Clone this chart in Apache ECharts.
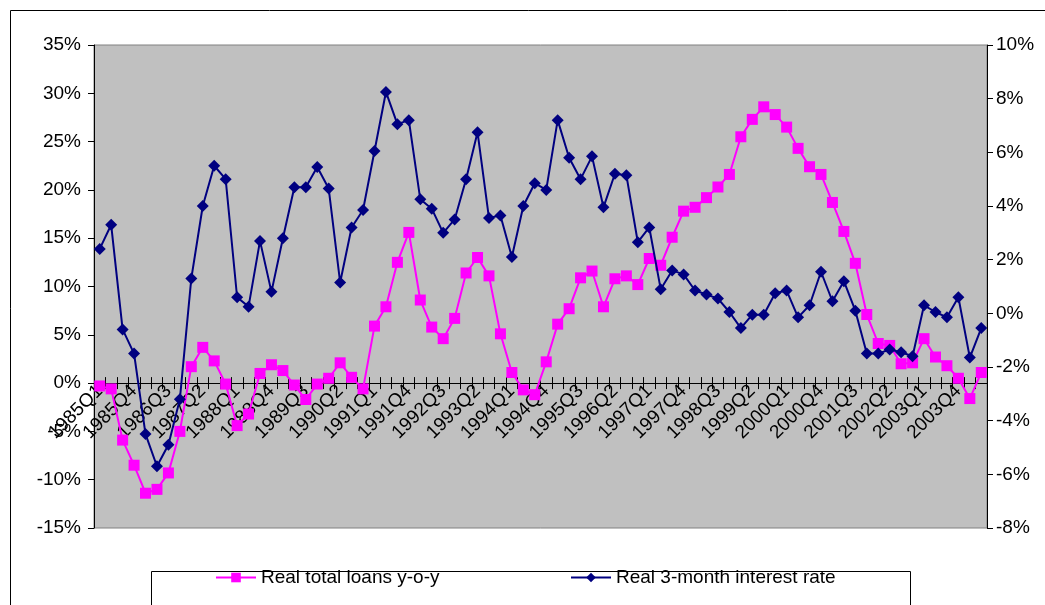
<!DOCTYPE html>
<html>
<head>
<meta charset="utf-8">
<script src="https://cdn.jsdelivr.net/npm/echarts@6/dist/echarts.min.js"></script>
<style>
  html, body { margin: 0; padding: 0; background: #fff; }
  #chart { width: 1045px; height: 605px; }
</style>
</head>
<body>
<div id="chart"></div>
<script>
// Quarters 1985Q1 .. 2004Q2
const quarters = [];
for (let y = 1985; y <= 2004; y++) {
  for (let q = 1; q <= 4; q++) {
    if (y === 2004 && q > 2) break;
    quarters.push(y + 'Q' + q);
  }
}

// Real total loans, year-on-year growth (%), left axis
const realLoansYoY = [
  -0.3, -0.6, -5.9, -8.5, -11.4, -11.0, -9.3, -5.0, 1.7, 3.7,
  2.3, -0.1, -4.4, -3.2, 1.0, 1.9, 1.3, -0.2, -1.7, -0.1,
  0.5, 2.1, 0.6, -0.6, 5.9, 7.9, 12.5, 15.6, 8.6, 5.8,
  4.6, 6.7, 11.4, 13.0, 11.1, 5.1, 1.1, -0.7, -1.2, 2.2,
  6.1, 7.7, 10.9, 11.6, 7.9, 10.8, 11.1, 10.2, 12.9, 12.2,
  15.1, 17.8, 18.2, 19.2, 20.3, 21.6, 25.5, 27.3, 28.6, 27.8,
  26.5, 24.3, 22.4, 21.6, 18.7, 15.7, 12.4, 7.1, 4.1, 3.9,
  2.0, 2.1, 4.6, 2.7, 1.8, 0.5, -1.6, 1.1
];

// Real 3-month interest rate (%), right axis
const real3mRate = [
  2.4, 3.3, -0.6, -1.5, -4.5, -5.7, -4.9, -3.2, 1.3, 4.0,
  5.5, 5.0, 0.6, 0.25, 2.7, 0.8, 2.8, 4.7, 4.7, 5.45,
  4.65, 1.15, 3.2, 3.85, 6.05, 8.25, 7.05, 7.2, 4.25, 3.9,
  3.0, 3.5, 5.0, 6.75, 3.55, 3.65, 2.1, 4.0, 4.85, 4.6,
  7.2, 5.8, 5.0, 5.85, 3.95, 5.2, 5.15, 2.65, 3.2, 0.9,
  1.6, 1.45, 0.85, 0.7, 0.55, 0.05, -0.55, -0.05, -0.05, 0.75,
  0.85, -0.15, 0.3, 1.55, 0.45, 1.2, 0.1, -1.5, -1.5, -1.35,
  -1.45, -1.6, 0.3, 0.05, -0.15, 0.6, -1.65, -0.55
];

const seriesNames = ['Real total loans y-o-y', 'Real 3-month interest rate'];

// Axis ranges
const loansAxis = { min: -15, max: 35, interval: 5 };
const rateAxis = { min: -8, max: 10, interval: 2 };

const FONT = 'Liberation Sans, Arial, sans-serif';
const FS = 19;

const W = 1045, H = 605;
const gridBox = { left: 94, right: 58, top: 45, bottom: 77 };
// The category axis sits on the 0% line of the left axis; a label-only grid
// ends exactly there so the quarter labels hang from that line.
const plotH = H - gridBox.top - gridBox.bottom;
const zeroFromBottom = plotH * (0 - loansAxis.min) / (loansAxis.max - loansAxis.min);
const labelGridBox = { left: gridBox.left, right: gridBox.right, top: gridBox.top,
                       bottom: gridBox.bottom + zeroFromBottom };

const chart = echarts.init(document.getElementById('chart'), null, { renderer: 'canvas' });

const catAxis = (extra) => Object.assign({
  type: 'category',
  data: quarters,
  boundaryGap: true,
  splitLine: { show: false }
}, extra);

chart.setOption({
  animation: false,
  backgroundColor: '#fff',
  textStyle: { fontFamily: FONT },
  graphic: [
    { type: 'rect', z: -10, silent: true,
      shape: { x: 10.5, y: 10.5, width: W - 5, height: H + 20 },
      style: { fill: '#fff', stroke: '#000', lineWidth: 1 } },
    { type: 'rect', z: 0, silent: true,
      shape: { x: 151.5, y: 571.5, width: 759, height: 60 },
      style: { fill: '#fff', stroke: '#000', lineWidth: 1 } }
  ],
  grid: [
    Object.assign({ show: true, backgroundColor: '#C0C0C0', borderColor: '#808080', borderWidth: 1 }, gridBox),
    Object.assign({ show: false }, gridBox),
    Object.assign({ show: false }, labelGridBox)
  ],
  legend: [
    { data: [seriesNames[0]], left: 210, top: 563, itemWidth: 40, itemHeight: 12, itemGap: 0,
      textStyle: { fontFamily: FONT, fontSize: FS, color: '#000' } },
    { data: [seriesNames[1]], left: 565, top: 563, itemWidth: 40, itemHeight: 12, itemGap: 0,
      textStyle: { fontFamily: FONT, fontSize: FS, color: '#000' } }
  ],
  xAxis: [
    // data axis for both series
    catAxis({ gridIndex: 0, show: false }),
    // upper half of the crossing tick marks, on the 0% line
    catAxis({
      gridIndex: 1,
      axisLine: { onZero: true, lineStyle: { color: '#000', width: 1 } },
      axisTick: { show: true, inside: true, interval: 0, length: 6, lineStyle: { color: '#000' } },
      axisLabel: { show: false }
    }),
    // axis line, lower tick half and quarter labels
    catAxis({
      gridIndex: 2, position: 'bottom',
      axisLine: { onZero: false, lineStyle: { color: '#000', width: 1 } },
      axisTick: { show: true, interval: 0, length: 6, lineStyle: { color: '#000' } },
      axisLabel: { interval: 2, rotate: 45, margin: 5, fontFamily: FONT, fontSize: FS, color: '#000' }
    })
  ],
  yAxis: [
    {
      type: 'value', gridIndex: 0, position: 'left',
      min: loansAxis.min, max: loansAxis.max, interval: loansAxis.interval,
      axisLine: { show: true, lineStyle: { color: '#000' } },
      axisTick: { show: true, length: 6, lineStyle: { color: '#000' } },
      splitLine: { show: false },
      axisLabel: { formatter: '{value}%', margin: 13, fontFamily: FONT, fontSize: FS, color: '#000' }
    },
    {
      type: 'value', gridIndex: 0, position: 'right',
      min: rateAxis.min, max: rateAxis.max, interval: rateAxis.interval,
      axisLine: { show: true, lineStyle: { color: '#000' } },
      axisTick: { show: true, length: 6, lineStyle: { color: '#000' } },
      splitLine: { show: false },
      axisLabel: { formatter: '{value}%', margin: 9, fontFamily: FONT, fontSize: FS, color: '#000' }
    },
    {
      type: 'value', gridIndex: 1, show: false,
      min: loansAxis.min, max: loansAxis.max, interval: loansAxis.interval
    },
    {
      type: 'value', gridIndex: 2, show: false, min: 0, max: 1
    }
  ],
  series: [
    {
      name: seriesNames[0], type: 'line', xAxisIndex: 0, yAxisIndex: 0,
      data: realLoansYoY,
      symbol: 'rect', symbolSize: 11, showAllSymbol: true,
      lineStyle: { color: '#FF00FF', width: 2 },
      itemStyle: { color: '#FF00FF' },
      z: 3
    },
    {
      name: seriesNames[1], type: 'line', xAxisIndex: 0, yAxisIndex: 1,
      data: real3mRate,
      symbol: 'diamond', symbolSize: 12, showAllSymbol: true,
      lineStyle: { color: '#000080', width: 2 },
      itemStyle: { color: '#000080' },
      z: 4
    }
  ]
});
</script>
</body>
</html>
